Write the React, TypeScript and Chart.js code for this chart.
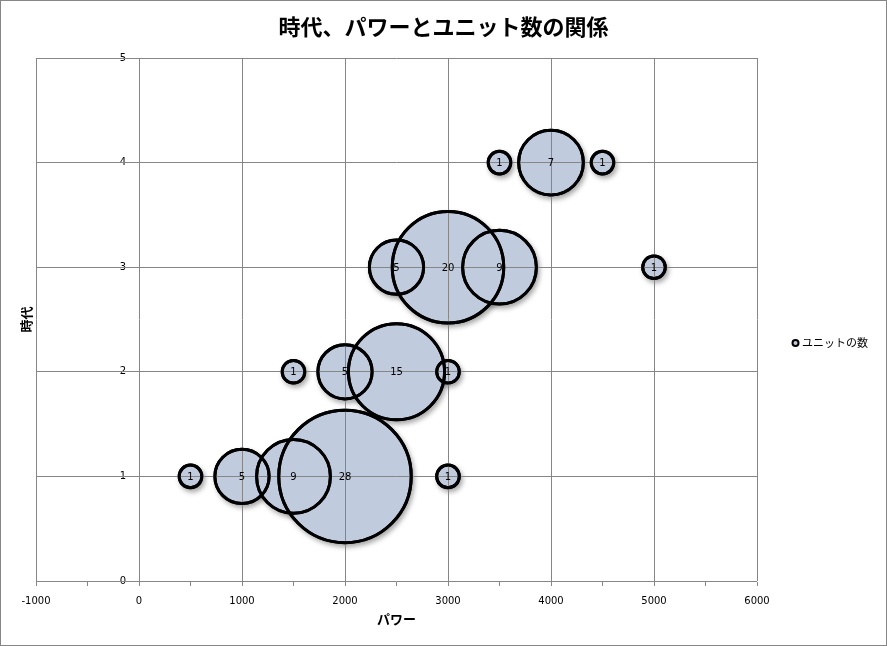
import React, { useEffect, useRef } from 'react';
import { Chart, registerables } from 'chart.js';

Chart.register(...registerables);

const TITLE = '時代、パワーとユニット数の関係';
const SERIES_NAME = 'ユニットの数';
const X_TITLE = 'パワー';
const Y_TITLE = '時代';

const power = [500, 1000, 1500, 2000, 3000, 1500, 2000, 2500, 3000, 2500, 3000, 3500, 5000, 3500, 4000, 4500];
const era = [1, 1, 1, 1, 1, 2, 2, 2, 2, 3, 3, 3, 3, 4, 4, 4];
const units = [1, 5, 9, 28, 1, 1, 5, 15, 1, 5, 20, 9, 1, 1, 7, 1];

const xTickValues = [-1000, -500, 0, 500, 1000, 1500, 2000, 2500, 3000, 3500, 4000, 4500, 5000, 5500, 6000];
const xLabelValues = [-1000, 0, 1000, 2000, 3000, 4000, 5000, 6000];
const yTickValues = [0, 1, 2, 3, 4, 5];

const GRID = '#868686';
const FILL = '#c0cbdd';
const BUBBLE_K = 12.8;
const BORDER_W = 3;
// y labels sit a little left of the x = 0 line (in x-axis units)
const Y_LABEL_GAP = 125;

const CJK = '"Noto Sans CJK JP", "Noto Sans", sans-serif';
const NUM = '"DejaVu Sans", sans-serif';

export default function App() {
  const ref = useRef<HTMLCanvasElement | null>(null);

  useEffect(() => {
    const canvas = ref.current;
    if (!canvas) return;

    const mk = (extra: number) =>
      units.map((u, i) => ({ x: power[i], y: era[i], r: BUBBLE_K * Math.sqrt(u) + extra }));

    const decor = {
      id: 'decor',
      beforeDatasetDraw(chart: any, args: any) {
        if (args.index === 2) {
          const ctx = chart.ctx;
          ctx.save();
          ctx.shadowColor = 'rgba(0,0,0,0.35)';
          ctx.shadowBlur = 5;
          ctx.shadowOffsetX = 2;
          ctx.shadowOffsetY = 3;
        }
      },
      afterDatasetDraw(chart: any, args: any) {
        if (args.index === 2) chart.ctx.restore();
      },
      afterDraw(chart: any) {
        const ctx = chart.ctx;
        const area = chart.chartArea;
        const meta = chart.getDatasetMeta(0);
        ctx.save();
        meta.data.forEach((el: any) => el.draw(ctx, area));
        ctx.restore();
        ctx.save();
        ctx.font = '10px ' + NUM;
        ctx.fillStyle = '#000';
        ctx.textAlign = 'center';
        ctx.textBaseline = 'middle';
        meta.data.forEach((el: any, i: number) => {
          ctx.fillText(String(units[i]), el.x, el.y + 1);
        });
        ctx.restore();
        ctx.save();
        ctx.fillStyle = '#000';
        ctx.textAlign = 'center';
        ctx.textBaseline = 'middle';
        ctx.font = 'bold 22px ' + CJK;
        ctx.fillText(TITLE, chart.width / 2, 27);
        ctx.font = 'bold 13px ' + CJK;
        ctx.fillText(X_TITLE, (area.left + area.right) / 2, 619);
        ctx.translate(26, (area.top + area.bottom) / 2);
        ctx.rotate(-Math.PI / 2);
        ctx.fillText(Y_TITLE, 0, 0);
        ctx.restore();
        ctx.save();
        ctx.beginPath();
        ctx.arc(795.5, 343, 3, 0, Math.PI * 2);
        ctx.fillStyle = FILL;
        ctx.fill();
        ctx.lineWidth = 2;
        ctx.strokeStyle = '#000';
        ctx.stroke();
        ctx.fillStyle = '#000';
        ctx.font = '11px ' + CJK;
        ctx.textAlign = 'left';
        ctx.textBaseline = 'middle';
        ctx.fillText(SERIES_NAME, 802, 343);
        ctx.restore();
        ctx.save();
        ctx.strokeStyle = GRID;
        ctx.lineWidth = 1;
        ctx.strokeRect(0.5, 0.5, chart.width - 1, chart.height - 1);
        ctx.restore();
      },
    };

    const chart = new Chart(canvas, {
      type: 'bubble',
      data: {
        datasets: [
          {
            label: SERIES_NAME,
            data: mk(-BORDER_W / 2),
            backgroundColor: 'rgba(0,0,0,0)',
            borderColor: '#000',
            borderWidth: BORDER_W,
          },
          {
            label: SERIES_NAME + ' fill',
            data: mk(-BORDER_W / 2),
            backgroundColor: FILL,
            borderWidth: 0,
          },
          {
            label: SERIES_NAME + ' shadow',
            data: mk(0),
            backgroundColor: FILL,
            borderWidth: 0,
          },
        ],
      },
      options: {
        responsive: false,
        animation: false,
        events: [],
        layout: { autoPadding: false, padding: { left: 36, right: 130, top: 58, bottom: 0 } },
        plugins: {
          legend: { display: false },
          tooltip: { enabled: false },
          title: { display: false },
        },
        scales: {
          x: {
            type: 'linear',
            position: 'bottom',
            min: -1000,
            max: 6000,
            afterBuildTicks: (s: any) => {
              s.ticks = xTickValues.map((v) => ({ value: v }));
            },
            afterFit: (s: any) => {
              s.height = 65;
              s.paddingLeft = 0;
              s.paddingRight = 0;
            },
            ticks: {
              autoSkip: false,
              maxRotation: 0,
              padding: 9,
              color: '#000',
              font: { family: NUM, size: 10 },
              callback: (v: any) => (xLabelValues.includes(Number(v)) ? String(v) : ''),
            },
            grid: {
              z: 1,
              color: (c: any) => (c.tick && xLabelValues.includes(c.tick.value) ? GRID : 'rgba(0,0,0,0)'),
              tickColor: GRID,
              tickLength: 5,
              lineWidth: 1,
            },
            border: { display: true, color: GRID, width: 1 },
          },
          y: {
            type: 'linear',
            axis: 'y',
            position: { x: -Y_LABEL_GAP } as any,
            min: 0,
            max: 5,
            afterBuildTicks: (s: any) => {
              s.ticks = yTickValues.map((v) => ({ value: v }));
            },
            afterFit: (s: any) => {
              s.width = 0;
              s.paddingTop = 0;
              s.paddingBottom = 0;
            },
            ticks: {
              padding: 0,
              color: '#000',
              font: { family: NUM, size: 10 },
            },
            grid: {
              z: 1,
              color: GRID,
              drawTicks: false,
              lineWidth: 1,
            },
            border: { display: false },
          },
        },
      },
      plugins: [decor],
    } as any);

    return () => chart.destroy();
  }, []);

  return (
    <div style={{ position: 'absolute', left: 0, top: 0, width: 887, height: 646, background: '#fff' }}>
      <canvas ref={ref} width={887} height={646} style={{ display: 'block' }} />
    </div>
  );
}
